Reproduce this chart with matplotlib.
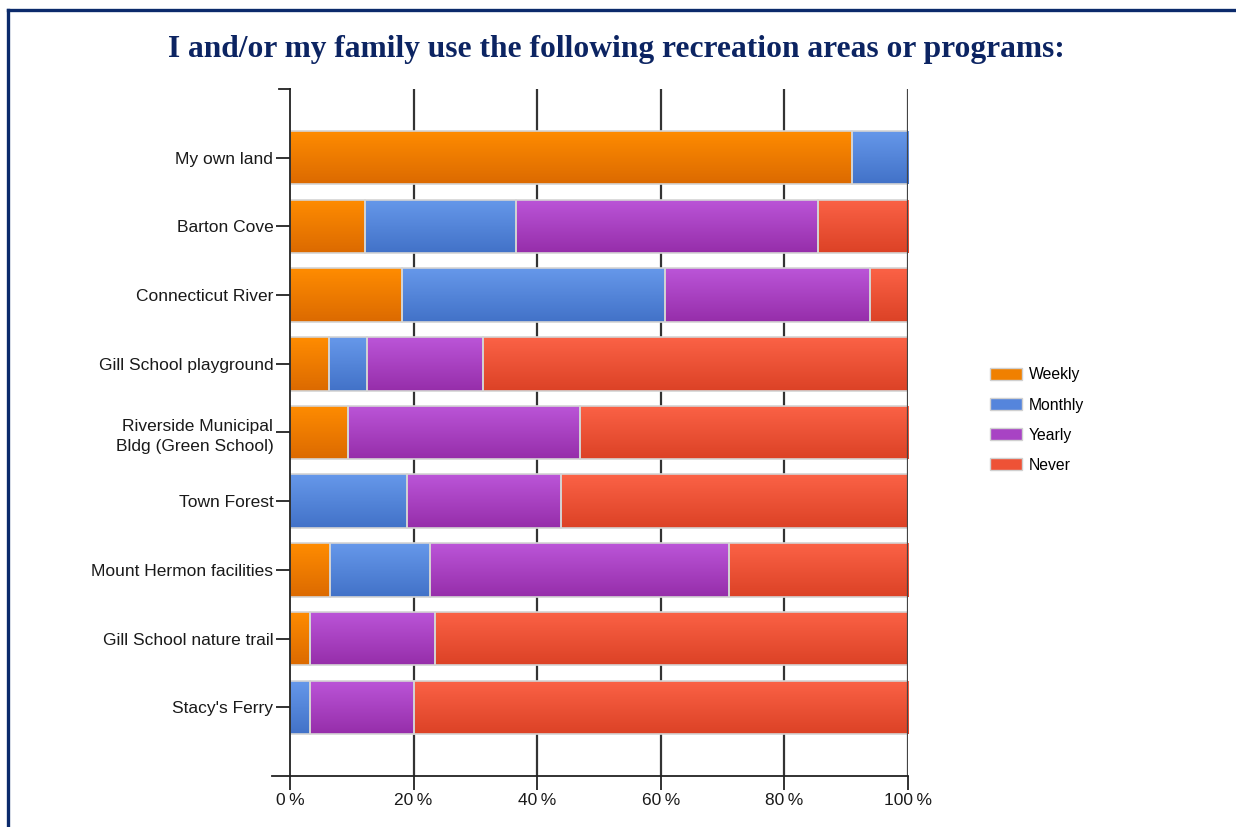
import numpy as np
import matplotlib
matplotlib.use('Agg')
import matplotlib.pyplot as plt
from matplotlib.colors import LinearSegmentedColormap
from matplotlib.lines import Line2D
from matplotlib.patches import Patch

plt.rcParams['font.family'] = ['Liberation Sans', 'DejaVu Sans']

places = ['My own land', 'Barton Cove', 'Connecticut River',
          'Gill School playground', 'Riverside Municipal\nBldg (Green School)',
          'Town Forest', 'Mount Hermon facilities', 'Gill School nature trail',
          "Stacy's Ferry"]
series = ['Weekly', 'Monthly', 'Yearly', 'Never']

# percent of respondents
weekly = [90.9, 12.2, 18.2, 6.25, 9.4, 0.0, 6.5, 3.2, 0.0]
monthly = [9.1, 24.4, 42.4, 6.25, 0.0, 18.9, 16.1, 0.0, 3.3]
yearly = [0.0, 48.8, 33.3, 18.75, 37.5, 25.0, 48.4, 20.3, 16.7]
never = [0.0, 14.6, 6.1, 68.75, 53.1, 56.1, 29.0, 76.5, 80.0]

xticks = [0, 20, 40, 60, 80, 100]

# gradient colours, top then bottom of each bar
grad = {
    'Weekly': ('#ff8c00', '#dc6a00'),
    'Monthly': ('#6698ea', '#4272c8'),
    'Yearly': ('#bb55d8', '#962eaa'),
    'Never': ('#fb6246', '#dc4226'),
}
legend_col = {'Weekly': '#f08000', 'Monthly': '#5585dc', 'Yearly': '#a843c4', 'Never': '#ee5236'}

W, H = 1236, 827
fig = plt.figure(figsize=(W / 100, H / 100), dpi=100)
ax = fig.add_axes([290 / W, 1 - 776 / H, 618 / W, 687 / H])

y = np.arange(len(places))
h = 0.78
grad_img = np.linspace(0, 1, 64).reshape(-1, 1)
left = np.zeros(len(places))
for name, vals in zip(series, [weekly, monthly, yearly, never]):
    vals = np.array(vals)
    bars = ax.barh(y, vals, height=h, left=left, color='none',
                   edgecolor='#d4d4d4', linewidth=1.2, zorder=3)
    cmap = LinearSegmentedColormap.from_list(name, grad[name])
    for b, v in zip(bars, vals):
        if v <= 0:
            continue
        x0, y0 = b.get_x(), b.get_y()
        im = ax.imshow(grad_img, cmap=cmap, aspect='auto', zorder=2,
                       extent=[x0, x0 + b.get_width(), y0 + b.get_height(), y0],
                       interpolation='bilinear')
        im.set_clip_path(b)
    left = left + vals

ax.set_xlim(0, 100)
ax.set_ylim(len(places), -1)
ax.set_xticks(xticks)
ax.set_xticklabels(['%d\u2009%%' % t for t in xticks])
ax.set_yticks(y)
ax.set_yticklabels(places, ha='right', linespacing=1.4)
ax.tick_params(axis='both', direction='out', length=10, width=1.3, color='#222222',
               labelsize=12.5, labelcolor='#1a1a1a', pad=2)

for t in xticks[1:-1]:
    ax.axvline(t, color='#333333', lw=1.6, zorder=1)
ax.axvline(100, color='#444444', lw=1.6, zorder=5)

for s in ['top', 'right']:
    ax.spines[s].set_visible(False)
for s in ['left', 'bottom']:
    ax.spines[s].set_color('#222222')
    ax.spines[s].set_linewidth(1.3)
    ax.spines[s].set_zorder(5)

# end ticks at the top and bottom of the value axis
ax.add_line(Line2D([-11 / 618, 0], [1, 1], transform=ax.transAxes,
                   color='#222222', lw=1.3, clip_on=False))
ax.add_line(Line2D([-18 / 618, 0], [0, 0], transform=ax.transAxes,
                   color='#222222', lw=1.3, clip_on=False))

handles = [Patch(facecolor=legend_col[s], edgecolor='#d0d0d0', label=s) for s in series]
fig.legend(handles=handles, loc='upper left', bbox_to_anchor=(984 / W, 1 - 361 / H),
           frameon=False, fontsize=11.3, handlelength=2.0, handleheight=0.8,
           labelspacing=0.97, handletextpad=0.45, borderaxespad=0)

fig.text(616 / W, 1 - 50 / H, 'I and/or my family use the following recreation areas or programs:',
         ha='center', va='center', family='Liberation Serif', fontweight='bold',
         fontsize=22.7, color='#0c2462')

# page frame
navy = '#0b2a6b'
fig.add_artist(Line2D([8 / W, 1], [1 - 10 / H, 1 - 10 / H], transform=fig.transFigure,
                      color=navy, lw=2.4))
fig.add_artist(Line2D([8 / W, 8 / W], [0, 1 - 10 / H], transform=fig.transFigure,
                      color=navy, lw=2.4))

fig.savefig('out.png', dpi=100)
